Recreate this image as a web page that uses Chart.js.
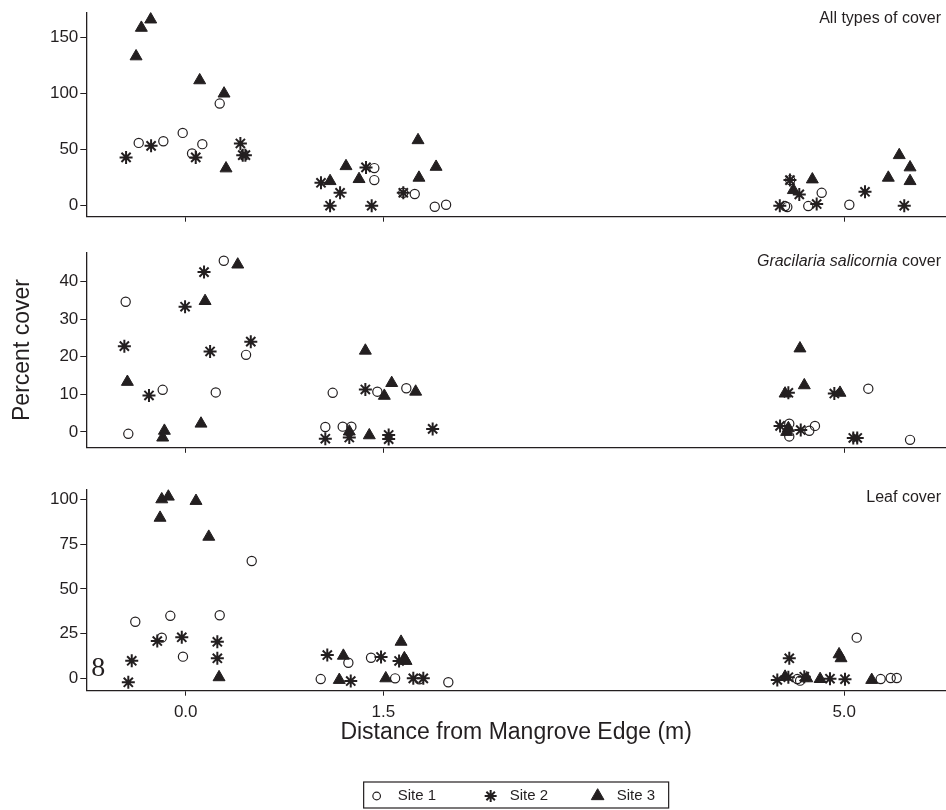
<!DOCTYPE html>
<html>
<head>
<meta charset="utf-8">
<script src="https://cdn.jsdelivr.net/npm/chart.js@4.4.1/dist/chart.umd.min.js"></script>
<style>
  html, body { margin: 0; padding: 0; background: #fff; overflow: hidden; }
  #wrap { position: relative; width: 946px; height: 810px; }
  canvas { position: absolute; left: 0; }
</style>
</head>
<body>
<div id="wrap">
  <canvas id="allCover" width="946" height="230" style="top:0px"></canvas>
  <canvas id="gracCover" width="946" height="230" style="top:230px"></canvas>
  <canvas id="leafCover" width="946" height="350" style="top:460px"></canvas>
</div>
<script>
// x axis (distance from mangrove edge, points jittered around 0.0 / 1.5 / 5.0)
const xTicks = [0, 1.5, 5.0];
const xTickLabels = ['0.0', '1.5', '5.0'];
const xMin = -0.755;
const xMax = 5.773;

const siteNames = ['Site 1', 'Site 2', 'Site 3'];

// All types of cover
const allSite1 = [[-0.357,55.9],[-0.170,57.4],[-0.023,64.8],[0.048,46.5],[0.126,54.8],[0.258,90.9],
  [1.432,33.5],[1.432,22.8],[1.652,11.5],[1.739,10.4],[1.891,-0.9],[1.977,0.9],
  [4.551,-0.3],[4.568,-1.2],[4.727,-0.3],[4.829,11.5],[5.039,0.9],[4.590,22.8]];
const allSite2 = [[-0.453,43.0],[-0.263,53.3],[0.076,43.0],[0.415,55.4],[0.433,45.0],[0.453,45.0],
  [1.027,20.4],[1.096,0],[1.172,11.5],[1.369,34.1],[1.412,0],[1.652,11.5],
  [4.588,22.8],[4.511,0],[4.659,10.1],[4.791,1.5],[5.158,12.4],[5.456,0]];
const allSite3 = [[-0.377,132.9],[-0.337,158.3],[-0.266,165.7],[0.106,111.6],[0.291,99.8],[0.306,33.2],
  [1.096,21.9],[1.217,35.2],[1.316,23.7],[1.764,58.3],[1.771,24.9],[1.901,34.6],
  [4.614,13.9],[4.758,23.4],[5.335,24.9],[5.418,45.0],[5.500,34.1],[5.500,21.9]];
const allTicks = [0, 50, 100, 150];

// Gracilaria salicornia cover
const gracSite1 = [[-0.456,34.6],[-0.436,-0.5],[-0.175,11.2],[0.228,10.5],[0.289,45.5],[0.458,20.5],
  [1.116,10.4],[1.060,1.3],[1.192,1.4],[1.258,1.4],[1.455,10.7],[1.675,11.6],
  [4.583,2.2],[4.583,-1.2],[4.735,0.3],[4.778,1.6],[5.183,11.5],[5.500,-2.1]];
const gracSite2 = [[-0.466,22.8],[-0.279,9.7],[-0.005,33.3],[0.139,42.5],[0.185,21.4],[0.494,24.0],
  [1.060,-1.8],[1.242,-1.5],[1.364,11.3],[1.541,-0.8],[1.541,-1.9],[1.875,0.8],
  [4.513,1.6],[4.576,10.4],[4.670,0.5],[4.925,10.2],[5.069,-1.6],[5.099,-1.6]];
const gracSite3 = [[-0.443,13.3],[-0.162,0.3],[-0.175,-1.5],[0.116,2.2],[0.147,34.8],[0.395,44.5],
  [1.364,21.6],[1.242,0.1],[1.394,-0.9],[1.508,9.6],[1.564,13.0],[1.746,10.7],
  [4.664,22.2],[4.697,12.4],[4.551,10.2],[4.968,10.4],[4.576,1.0],[4.563,0]];
const gracTicks = [0, 10, 20, 30, 40];

// Leaf cover
const leafSite1 = [[-0.383,31.7],[-0.182,22.8],[-0.117,35.0],[-0.021,12.2],[0.258,35.3],[0.501,65.6],
  [1.025,-0.3],[1.235,8.8],[1.407,11.6],[1.590,0.1],[1.774,-0.4],[1.994,-2.1],
  [5.095,22.8],[4.665,-1.2],[4.644,-0.3],[5.277,-0.3],[5.353,0.3],[5.399,0.3]];
const leafSite2 = [[-0.436,-2.1],[-0.410,9.9],[-0.216,20.9],[-0.030,23.0],[0.240,20.5],[0.240,11.3],
  [1.075,13.1],[1.253,-1.4],[1.483,12.0],[1.620,9.8],[1.728,0.1],[1.804,0.1],
  [4.583,11.3],[4.492,-0.8],[4.576,0.7],[4.697,1.0],[4.892,-0.1],[5.006,-0.4]];
const leafSite3 = [[-0.195,89.7],[-0.182,100.0],[-0.132,101.5],[0.078,99.1],[0.175,79.1],[0.253,0.7],
  [1.197,12.7],[1.166,-0.8],[1.519,0.1],[1.635,20.5],[1.660,11.3],[1.673,9.8],
  [4.551,1.0],[4.716,0.1],[4.817,-0.3],[4.961,13.5],[4.976,11.3],[5.209,-0.8]];
const leafTicks = [0, 25, 50, 75, 100];
// stray serif glyph printed in the leaf panel
const leafStray = [{text: '8', x: -0.664, y: 5.7}];

const ink = '#231f20';
const family = "'Liberation Sans', Arial, Helvetica, sans-serif";

const siteStyle = [
  {pointStyle: 'circle', radius: 4.6, borderWidth: 1.2, fill: 'rgba(0,0,0,0)'},
  {pointStyle: 'star', radius: 6.5, borderWidth: 2, fill: ink},
  {pointStyle: 'triangle', radius: 6.9, borderWidth: 1, fill: ink}
];

// right-aligned panel caption, optional italic parts, stray glyphs, legend box
const panelText = {
  id: 'panelText',
  afterDraw(chart, args, opts) {
    const ctx = chart.ctx;
    ctx.save();
    ctx.fillStyle = ink;
    ctx.textBaseline = 'middle';
    ctx.textAlign = 'right';
    let x = opts.right;
    for (let i = opts.parts.length - 1; i >= 0; i--) {
      const part = opts.parts[i];
      ctx.font = (part.italic ? 'italic ' : '') + opts.size + 'px ' + family;
      ctx.fillText(part.text, x, opts.y);
      x -= ctx.measureText(part.text).width;
    }
    (opts.stray || []).forEach(s => {
      ctx.font = "28px 'Liberation Serif', 'DejaVu Serif', serif";
      ctx.textAlign = 'center';
      ctx.fillText(s.text, chart.scales.x.getPixelForValue(s.x), chart.scales.y.getPixelForValue(s.y));
    });
    if (opts.legend) {
      const w = 305, h = 26;
      const cx = (chart.chartArea.left + chart.chartArea.right) / 2;
      const left = cx - w / 2;
      const top = chart.height - 28;
      ctx.strokeStyle = ink;
      ctx.lineWidth = 1.2;
      ctx.strokeRect(left, top, w, h);
      const symX = [13, 127, 234];
      const txtX = [34, 146, 253];
      const legRadius = [3.8, 6, 7.3];
      ctx.font = '15px ' + family;
      ctx.textAlign = 'left';
      siteNames.forEach((name, i) => {
        ctx.fillStyle = siteStyle[i].fill;
        ctx.strokeStyle = ink;
        ctx.lineWidth = siteStyle[i].borderWidth;
        Chart.helpers.drawPoint(ctx, {pointStyle: siteStyle[i].pointStyle, radius: legRadius[i],
          borderWidth: siteStyle[i].borderWidth, rotation: 0}, left + symX[i], top + h / 2 + 1);
        ctx.fillStyle = ink;
        ctx.fillText(name, left + txtX[i], top + h / 2 + 1);
      });
    }
    ctx.restore();
  }
};

function makePanel(id, series, yMin, yMax, yTicks, caption, box) {
  return new Chart(document.getElementById(id), {
    type: 'scatter',
    data: {
      datasets: series.map((pts, i) => ({
        label: siteNames[i],
        data: pts.map(p => ({x: p[0], y: p[1]})),
        pointStyle: siteStyle[i].pointStyle,
        pointRadius: siteStyle[i].radius,
        pointBorderWidth: siteStyle[i].borderWidth,
        borderColor: ink,
        backgroundColor: siteStyle[i].fill,
        clip: false
      }))
    },
    options: {
      responsive: false,
      animation: false,
      events: [],
      layout: {autoPadding: false, padding: {top: box.top, bottom: box.bottom, left: 0, right: 0}},
      plugins: {
        legend: {display: false},
        tooltip: {enabled: false},
        panelText: Object.assign({right: 941, size: 16}, caption)
      },
      scales: {
        x: {
          type: 'linear', min: xMin, max: xMax,
          afterBuildTicks: s => { s.ticks = xTicks.map(v => ({value: v})); },
          afterFit: s => { s.height = box.xHeight; },
          ticks: {display: !!box.xLabels, autoSkip: false, maxRotation: 0, padding: 6,
            color: ink, font: {family, size: 17},
            callback: (v, i) => xTickLabels[i]},
          grid: {drawOnChartArea: false, drawTicks: true, tickLength: 5, color: ink, tickWidth: 1},
          border: {color: ink, width: 1.3},
          title: box.xTitle ? {display: true, text: box.xTitle, color: ink,
            font: {family, size: 23}, padding: {top: 0, bottom: 14}} : {display: false}
        },
        y: {
          min: yMin, max: yMax,
          afterBuildTicks: s => { s.ticks = yTicks.map(v => ({value: v})); },
          afterFit: s => { s.width = 86.3; },
          ticks: {autoSkip: false, padding: 2, color: ink, font: {family, size: 17},
            callback: v => String(v)},
          grid: {drawOnChartArea: false, drawTicks: true, tickLength: 6, color: ink, tickWidth: 1},
          border: {color: ink, width: 1.3},
          title: box.yTitle ? {display: true, text: box.yTitle, color: ink,
            font: {family, size: 23}, padding: {top: 9, bottom: 0}} : {display: false}
        }
      }
    },
    plugins: [panelText]
  });
}

makePanel('allCover', [allSite1, allSite2, allSite3], -9.76, 172.2, allTicks,
  {y: 18.5, parts: [{text: 'All types of cover'}]},
  {top: 11.7, bottom: 0, xHeight: 13.3});

makePanel('gracCover', [gracSite1, gracSite2, gracSite3], -4.22, 47.76, gracTicks,
  {y: 32, parts: [{text: 'Gracilaria salicornia', italic: true}, {text: ' cover'}]},
  {top: 22.3, bottom: 0, xHeight: 6.7, yTitle: 'Percent cover'});

makePanel('leafCover', [leafSite1, leafSite2, leafSite3], -6.8, 105.6, leafTicks,
  {y: 37.5, parts: [{text: 'Leaf cover'}], stray: leafStray, legend: true},
  {top: 29.3, bottom: 49.3, xHeight: 70, xLabels: true, xTitle: 'Distance from Mangrove Edge (m)'});
</script>
</body>
</html>
